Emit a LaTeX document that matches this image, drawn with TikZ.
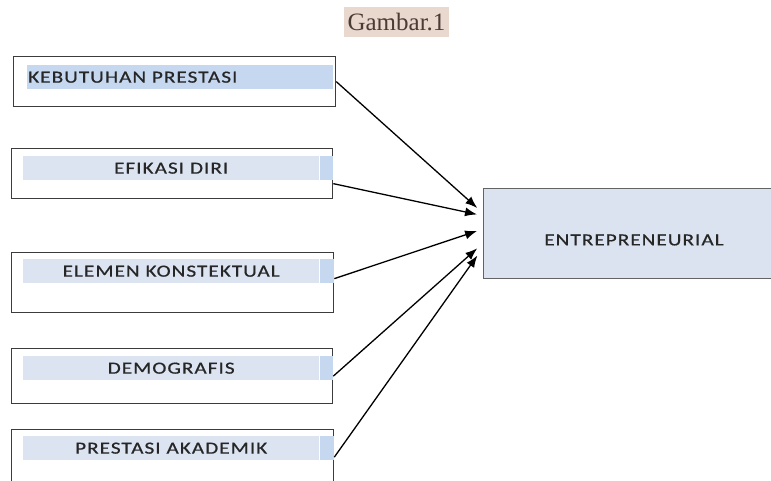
\documentclass[tikz,border=0pt]{standalone}
\usepackage{fontspec}
\setmainfont{Liberation Serif}
\newfontfamily\boxfont[FakeStretch=1.25, LetterSpace=6, FakeBold=0.6]{Carlito}
\usetikzlibrary{arrows.meta,positioning}
\definecolor{barlight}{HTML}{DCE4F2}
\definecolor{bardark}{HTML}{C6D8EF}
\definecolor{entfill}{HTML}{DCE3F0}
\definecolor{edge}{HTML}{3C3C3C}
\definecolor{titlebg}{HTML}{E8D8CE}
\definecolor{titletext}{HTML}{4A3B35}
\begin{document}
\begin{tikzpicture}[x=1pt, y=-1pt,
    varbox/.style={draw=edge, line width=1.3pt, anchor=north west, inner sep=0pt, minimum height=50pt},
    bar/.style={fill=barlight, anchor=north west, inner sep=0pt, minimum width=296pt, minimum height=24pt,
      font=\boxfont\fontsize{17}{19}\selectfont, text=black!85},
    barend/.style={fill=bardark, anchor=north west, inner sep=0pt, minimum width=13pt, minimum height=24pt},
    link/.style={-{Latex[length=12pt,width=9pt]}, line width=1.3pt, shorten >=1pt}]
  \clip (0,0) rectangle (771,481);
  % title
  \node (title) [fill=titlebg, text=titletext, font=\fontsize{25}{28}\selectfont, inner xsep=1pt, inner ysep=1pt,
    minimum width=105pt, minimum height=30pt] at (396.5,22) {Gambar.1};
  % left column
  \node (b1) [varbox, minimum width=322pt] at (13,56) {};
  \node (t1) [bar, fill=bardark, minimum width=306pt, text width=304pt, align=left, inner xsep=1pt] at (27,65) {KEBUTUHAN PRESTASI};
  \node (b2) [varbox, minimum width=321pt] at (11,148) {};
  \node (t2) [bar] at (23,156) {EFIKASI DIRI};
  \node (e2) [barend, right=0pt of t2.north east, anchor=north west] {};
  \node (b3) [varbox, minimum width=322pt, minimum height=60pt] at (11,252) {};
  \node (t3) [bar] at (23,259) {ELEMEN KONSTEKTUAL};
  \node (e3) [barend, right=0pt of t3.north east, anchor=north west, minimum width=14pt] {};
  \node (b4) [varbox, minimum width=321pt, minimum height=55pt] at (11,348) {};
  \node (t4) [bar] at (23,356) {DEMOGRAFIS};
  \node (e4) [barend, right=0pt of t4.north east, anchor=north west] {};
  \node (b5) [varbox, minimum width=322pt, minimum height=70pt] at (11,429) {};
  \node (t5) [bar] at (23,436) {PRESTASI AKADEMIK};
  \node (e5) [barend, right=0pt of t5.north east, anchor=north west, minimum width=14pt] {};
  % right box
  \node (ent) [draw=edge!80, line width=1.3pt, fill=entfill, anchor=north west, inner sep=0pt,
    minimum width=300pt, minimum height=90pt] at (483,188) {};
  \node (entlabel) [font=\boxfont\fontsize{17}{19}\selectfont, text=black!85] at (634,240) {ENTREPRENEURIAL};
  % arrows
  \draw[link] (b1.east) to ([xshift=-5pt,yshift=25pt]ent.west);
  \draw[link] ([yshift=-10pt]b2.east) to ([xshift=-5pt,yshift=19pt]ent.west);
  \draw[link] ([yshift=4pt]b3.east) to ([xshift=-5pt,yshift=3pt]ent.west);
  \draw[link] (b4.east) to ([xshift=-5pt,yshift=-14pt]ent.west);
  \draw[link] ([yshift=7.5pt]b5.east) to ([xshift=-5pt,yshift=-21pt]ent.west);
\end{tikzpicture}
\end{document}
